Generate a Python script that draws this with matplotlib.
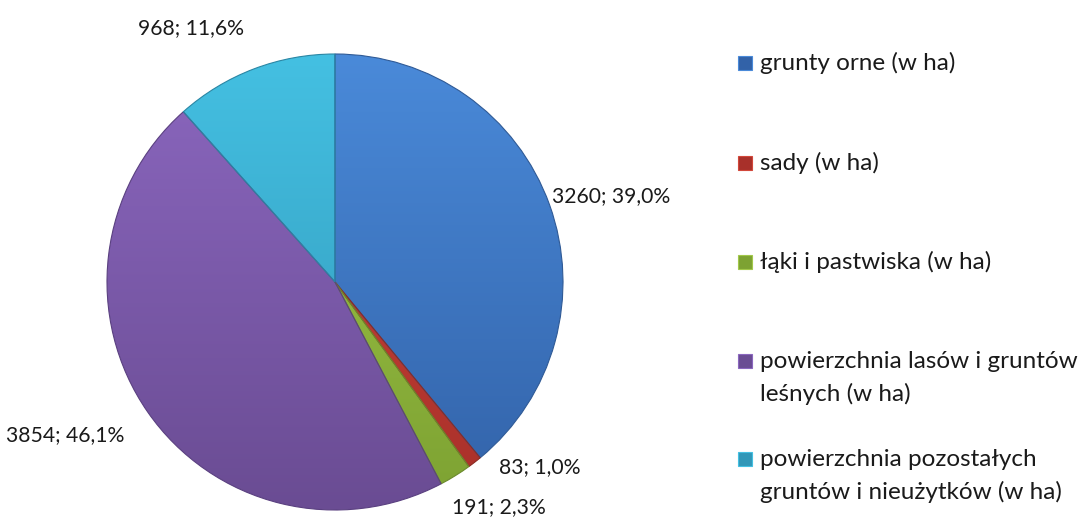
import numpy as np
import matplotlib
matplotlib.use("Agg")
import matplotlib.pyplot as plt
from matplotlib.colors import to_rgb
from matplotlib.patches import Rectangle

# Data
categories = ['grunty orne (w ha)', 'sady (w ha)', 'łąki i pastwiska (w ha)',
              'powierzchnia lasów i gruntów\nleśnych (w ha)',
              'powierzchnia pozostałych\ngruntów i nieużytków (w ha)']
values = [3260, 83, 191, 3854, 968]
percents = ['39,0%', '1,0%', '2,3%', '46,1%', '11,6%']

# Styles (top colour, bottom colour) for the gradient fill
top_colors = ['#4a8ad9', '#d2473a', '#a2c84a', '#8b67bf', '#44c0e2']
bottom_colors = ['#3262a8', '#a8302a', '#7da232', '#6a4c93', '#3197b8']
edge_colors = ['#2f5a96', '#8c2a22', '#6b8a2c', '#5a4080', '#2a86a4']
# label anchor: (angle in degrees, distance in radii, horizontal alignment)
label_pos = [(21.6, 1.024, 'left'), (-42, 1.21, 'center'), (-54, 1.22, 'center'),
             (215.9, 1.143, 'right'), (119.5, 1.28, 'center')]

plt.rcParams['font.family'] = ['Lato', 'DejaVu Sans']
FS = 15.2
LFS = 17.5

fig = plt.figure(figsize=(10.86, 5.2), dpi=100)
cx, cy, r = 335, 282, 228
ax = fig.add_axes([(cx - r) / 1086, (520 - cy - r) / 520, 2 * r / 1086, 2 * r / 520])
ax.set_xlim(-1, 1)
ax.set_ylim(-1, 1)
ax.axis('off')

wedges, _ = ax.pie(values, startangle=90, counterclock=False, radius=1,
                   colors=top_colors, wedgeprops=dict(linewidth=0.8))

for w, tc, bc, ec in zip(wedges, top_colors, bottom_colors, edge_colors):
    w.set_edgecolor(ec)
    t = np.linspace(0, 1, 256)[:, None]
    grad = (1 - t) * np.array(to_rgb(tc)) + t * np.array(to_rgb(bc))
    img = ax.imshow(grad.reshape(256, 1, 3), extent=[-1, 1, -1, 1],
                    aspect='auto', zorder=w.get_zorder(), interpolation='bilinear')
    img.set_clip_path(w)
    w.set_facecolor('none')
    w.set_zorder(w.get_zorder() + 0.5)

ax.set_xlim(-1, 1)
ax.set_ylim(-1, 1)

for v, p, (ang, d, ha) in zip(values, percents, label_pos):
    a = np.deg2rad(ang)
    ax.text(d * np.cos(a), d * np.sin(a), f'{v}; {p}', ha=ha, va='center',
            fontsize=FS, color='#1a1a1a', clip_on=False)

# Legend drawn by hand
leg_y = [63, 163, 262, 361, 459]
for lab, y, tc, bc in zip(categories, leg_y, top_colors, bottom_colors):
    fig.patches.append(Rectangle((738 / 1086, (520 - y - 7) / 520), 14 / 1086, 14 / 520,
                                 transform=fig.transFigure, facecolor=bc,
                                 edgecolor=tc, linewidth=0.8))
    for i, line in enumerate(lab.split('\n')):
        fig.text(760 / 1086, (520 - y - 33 * i) / 520, line, ha='left', va='center',
                 fontsize=LFS, color='#1a1a1a')

fig.savefig('out.png', dpi=100)
